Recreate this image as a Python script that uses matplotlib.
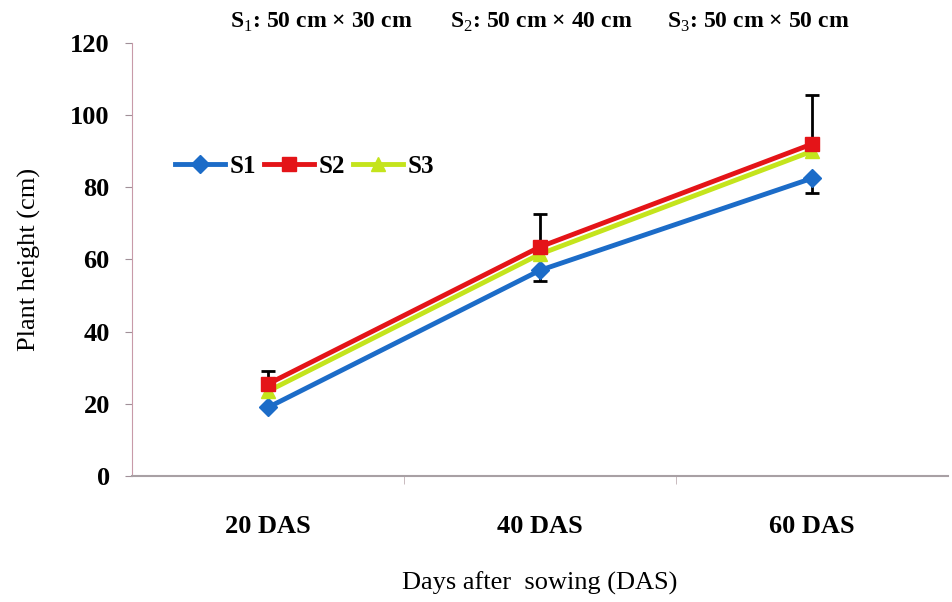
import matplotlib.pyplot as plt

# data
stages = ['20 DAS', '40 DAS', '60 DAS']
s1 = [19, 57, 82.5]
s2 = [25.5, 63.5, 92]
s3 = [23.5, 61.5, 90]
s1_err_low = [0, 3, 4]
s2_err_high = [3.5, 9, 13.5]

plt.rcParams['font.family'] = ['Liberation Serif', 'DejaVu Serif']
plt.rcParams['mathtext.fontset'] = 'custom'
plt.rcParams['mathtext.rm'] = 'Liberation Serif'
plt.rcParams['mathtext.bf'] = 'Liberation Serif:bold'

fig = plt.figure(figsize=(9.53, 6.02), dpi=100)
ax = fig.add_axes([0.1385, 0.2093, 0.8563, 0.7193])

x = list(range(len(stages)))

# error bars (S1 downwards, S2 upwards)
ax.errorbar(x, s1, yerr=[s1_err_low, [0] * len(x)], fmt='none',
            ecolor='black', elinewidth=2, capsize=5, capthick=2, zorder=2)
ax.errorbar(x, s2, yerr=[[0] * len(x), s2_err_high], fmt='none',
            ecolor='black', elinewidth=2, capsize=5, capthick=2, zorder=2)

ax.plot(x, s1, color='#1c6cc8', lw=3.5, marker='D', ms=9, label='S1', zorder=3)
ax.plot(x, s3, color='#c4e41c', lw=3.5, marker='^', ms=10, label='S3', zorder=3)
ax.plot(x, s2, color='#e41418', lw=3.5, marker='s', ms=10, label='S2', zorder=4)

ax.set_xlim(-0.5, 2.5)
ax.set_ylim(0, 120)
ax.set_yticks(range(0, 121, 20))
ax.set_xticks(x)
ax.set_xticklabels(stages, fontsize=19, fontweight='bold')
ax.set_xticks([0.5, 1.5], minor=True)
ax.tick_params(axis='x', which='major', length=0, pad=28)
ax.tick_params(axis='x', which='minor', length=6, color='#c0b0b4')
ax.tick_params(axis='y', labelsize=19, length=5, color='#a09098', pad=11)
for t in ax.get_yticklabels():
    t.set_fontweight('bold')

for side in ['top', 'right']:
    ax.spines[side].set_visible(False)
ax.spines['left'].set_color('#c89aa8')
ax.spines['bottom'].set_color('#a8a0a4')
ax.spines['bottom'].set_linewidth(1.5)

ax.set_xlabel('Days after  sowing (DAS)', fontsize=19, labelpad=24)
ax.set_ylabel('Plant height (cm)', fontsize=19, labelpad=21)

h, l = ax.get_legend_handles_labels()
order = [0, 2, 1]
ax.legend([h[i] for i in order], [l[i] for i in order], loc='center left',
          bbox_to_anchor=(0.025, 0.715), ncol=3, frameon=False,
          prop={'size': 18, 'weight': 'bold'},
          handlelength=2.0, handletextpad=0.2, columnspacing=0.3)

top_y = 0.962
fig.text(0.241, top_y, r'S$_1$: 50 cm × 30 cm', fontsize=17, va='center',
         fontweight='bold')
fig.text(0.472, top_y, r'S$_2$: 50 cm × 40 cm', fontsize=17, va='center',
         fontweight='bold')
fig.text(0.700, top_y, r'S$_3$: 50 cm × 50 cm', fontsize=17, va='center',
         fontweight='bold')

fig.savefig('out.png', dpi=100)
